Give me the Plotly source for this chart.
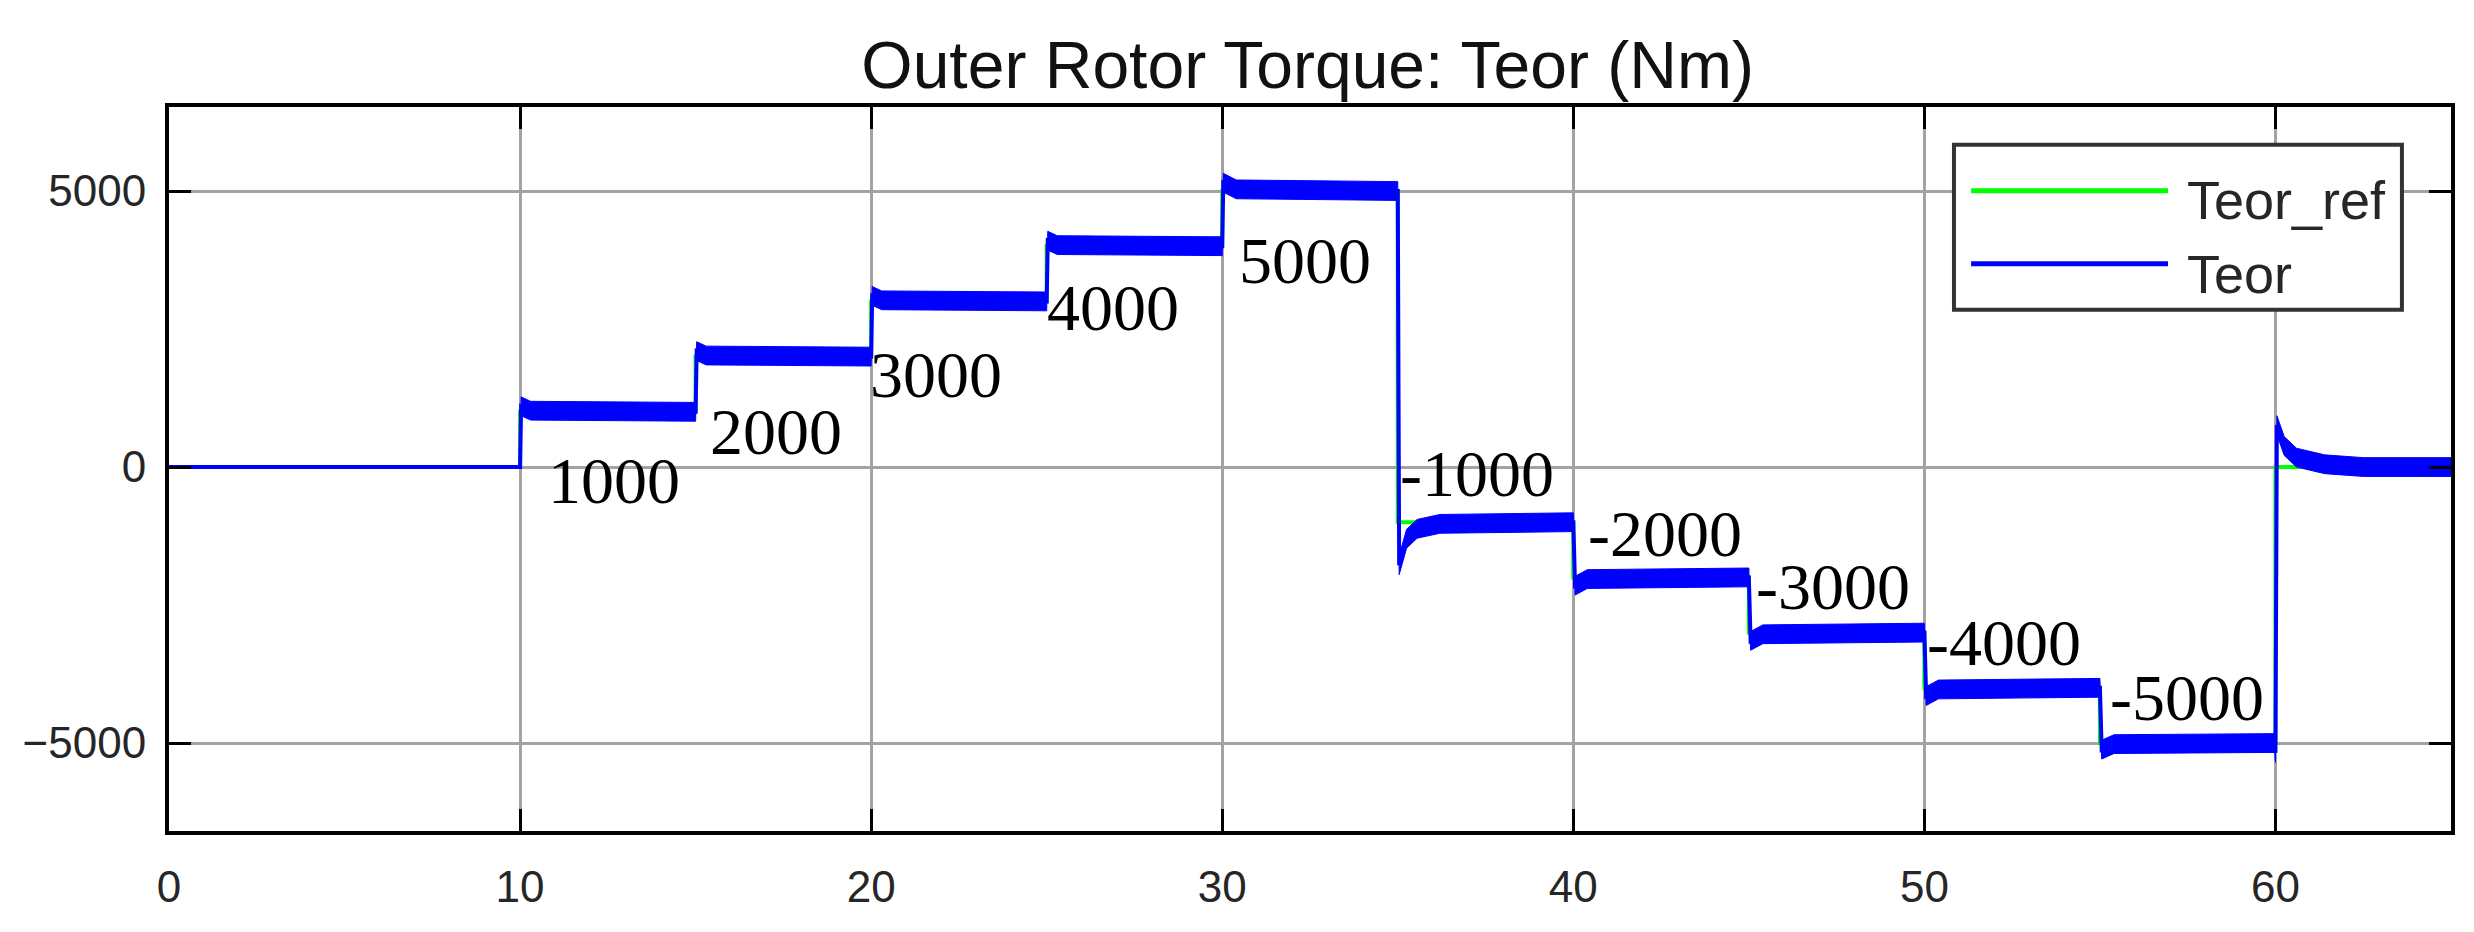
import plotly.graph_objects as go

# ---------------- data ----------------
step_times = [0, 10, 15, 20, 25, 30, 35, 40, 45, 50, 55, 60, 65]
ref_levels = [0, 1000, 2000, 3000, 4000, 5000, -1000, -2000, -3000, -4000, -5000, 0]

teor_t = [0, 10.0, 10.03, 10.3, 15.0, 15.03, 15.3, 20.0, 20.03, 20.3, 25.0, 25.03, 25.3,
          30.0, 30.03, 30.4, 35.0, 35.04, 35.25, 35.55, 36.2, 40.0, 40.05, 40.4,
          45.0, 45.05, 45.4, 50.0, 50.05, 50.4, 55.0, 55.05, 55.4, 59.98, 60.0,
          60.04, 60.25, 60.6, 61.4, 62.5, 65.0]
teor_v = [0, 0, 1100, 1020, 1000, 2100, 2020, 2000, 3100, 3020, 3000, 4100, 4020,
          4000, 5150, 5030, 5000, -1780, -1300, -1120, -1030, -1000, -2150, -2030,
          -2000, -3150, -3030, -3000, -4150, -4030, -4000, -5120, -5020, -5000, -5180,
          760, 380, 170, 50, 0, 0]
# noise half-amplitude of the measured torque band
teor_noise = [0, 0, 170, 170, 170, 170, 170, 170, 170, 170, 170, 170, 170,
              170, 170, 170, 170, 170, 170, 170, 170, 170, 170, 170,
              170, 170, 170, 170, 170, 170, 170, 170, 170, 170, 170,
              170, 170, 170, 170, 170, 170]

x_ticks = [0, 10, 20, 30, 40, 50, 60]
y_ticks = [-5000, 0, 5000]

# step labels
label_text = [str(v) for v in ref_levels[1:11]]
label_x = [12.67, 17.3, 21.84, 26.88, 32.36, 37.25, 42.6, 47.4, 52.27, 57.48]
label_y = [-253, 652, 1685, 2881, 3741, -120, -1200, -2170, -3170, -4177]

# ---------------- figure ----------------
BLUE = "#0000ff"
GREEN = "#00ff00"

ref_x = step_times
ref_y = ref_levels + [ref_levels[-1]]

upper = [v + n for v, n in zip(teor_v, teor_noise)]
lower = [v - n for v, n in zip(teor_v, teor_noise)]

fig = go.Figure()
fig.add_trace(go.Scatter(x=ref_x, y=ref_y, mode="lines", line_shape="hv",
                         line=dict(color=GREEN, width=4), name="Teor_ref",
                         showlegend=False))
fig.add_trace(go.Scatter(x=teor_t + teor_t[::-1], y=upper + lower[::-1],
                         mode="lines", fill="toself", fillcolor=BLUE,
                         line=dict(color=BLUE, width=1), name="Teor band",
                         showlegend=False, hoverinfo="skip"))
fig.add_trace(go.Scatter(x=teor_t, y=teor_v, mode="lines",
                         line=dict(color=BLUE, width=4), name="Teor",
                         showlegend=False))

axis_common = dict(showline=True, linecolor="black", linewidth=4, mirror="ticks",
                   ticks="inside", ticklen=22, tickwidth=3, tickcolor="black",
                   showgrid=True, gridcolor="#a3a3a3", gridwidth=3, zeroline=False)

tick_font = dict(family="Liberation Sans, Arial", size=44, color="#262626")
fig.update_xaxes(range=[0, 65], tickvals=x_ticks, ticklabelstandoff=14,
                 tickfont=tick_font, **axis_common)
fig.update_yaxes(range=[-6594, 6522], tickvals=y_ticks, ticklabelstandoff=10,
                 tickfont=tick_font, **axis_common)

annotations = []
for t, x, y in zip(label_text, label_x, label_y):
    annotations.append(dict(x=x, y=y, text=t, showarrow=False, xanchor="center",
                            yanchor="middle",
                            font=dict(family="Liberation Serif, Times New Roman", size=66,
                                      color="black")))

# custom legend (long line samples like the original)
lg_font = dict(family="Liberation Sans, Arial", size=54, color="#262626")
annotations.append(dict(xref="paper", yref="paper", x=0.8833, y=0.872, text="Teor_ref",
                        showarrow=False, xanchor="left", yanchor="middle", font=lg_font))
annotations.append(dict(xref="paper", yref="paper", x=0.8833, y=0.769, text="Teor",
                        showarrow=False, xanchor="left", yanchor="middle", font=lg_font))

shapes = [
    dict(type="rect", xref="paper", yref="paper", x0=0.7822, x1=0.9785, y0=0.72, y1=0.9479,
         line=dict(color="#333333", width=4), fillcolor="white", layer="above"),
    dict(type="line", xref="paper", yref="paper", x0=0.7897, x1=0.876, y0=0.8844, y1=0.8844,
         line=dict(color=GREEN, width=5), layer="above"),
    dict(type="line", xref="paper", yref="paper", x0=0.7897, x1=0.876, y0=0.7836, y1=0.7836,
         line=dict(color=BLUE, width=5), layer="above"),
]

fig.update_layout(
    width=2474, height=932,
    margin=dict(l=161, r=31, t=99, b=109),
    paper_bgcolor="white", plot_bgcolor="white",
    title=dict(text="Outer Rotor Torque: Teor (Nm)", x=0.5253, xanchor="center",
               y=0.939, yref="container", yanchor="middle",
               font=dict(family="Liberation Sans, Arial", size=66, color="#111")),
    annotations=annotations, shapes=shapes, showlegend=False,
)

fig.write_html("out.html")
